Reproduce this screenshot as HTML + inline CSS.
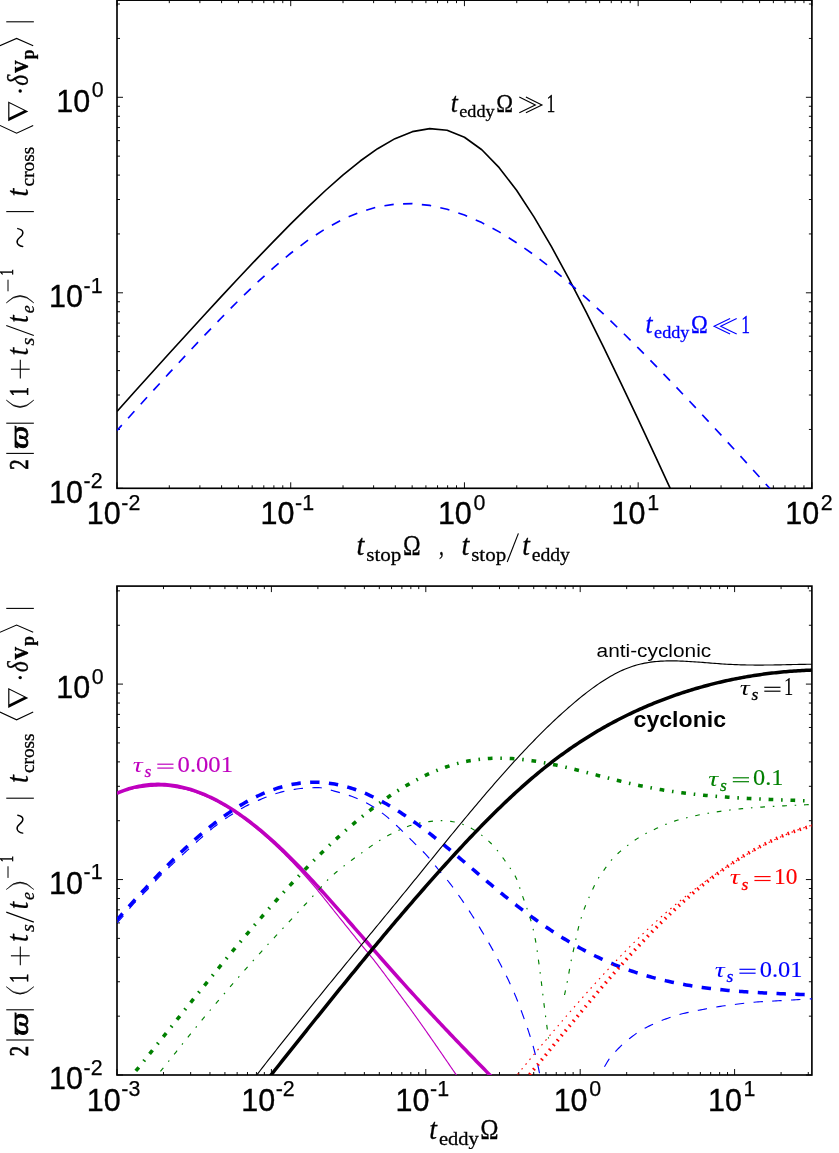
<!DOCTYPE html>
<html><head><meta charset="utf-8"><title>figure</title>
<style>
html,body{margin:0;padding:0;background:#fff}
body{width:839px;height:1153px;overflow:hidden}
svg{display:block}
.tx{opacity:0.999}
text{font-family:"Liberation Sans",sans-serif}
.tk{font-size:30.5px;stroke:#000;stroke-width:0.35px}
.sup{font-size:21.4px;stroke:#000;stroke-width:0.25px}
.m{font-family:"Liberation Serif",serif}
.i{font-style:italic}
.b{font-weight:bold}
</style></head><body>
<svg width="839" height="1153" viewBox="0 0 839 1153">
<rect width="839" height="1153" fill="#fff"/>
<defs>
</defs>
<clipPath id="clip1"><rect x="117" y="0.15" width="694.9" height="488.15"/></clipPath>
<path d="M117 488.3v-6M117 0.15v6M169.3 488.3v-3M169.3 0.15v3M199.89 488.3v-3M199.89 0.15v3M221.59 488.3v-3M221.59 0.15v3M238.43 488.3v-3M238.43 0.15v3M252.18 488.3v-3M252.18 0.15v3M263.81 488.3v-3M263.81 0.15v3M273.89 488.3v-3M273.89 0.15v3M282.78 488.3v-3M282.78 0.15v3M290.73 488.3v-6M290.73 0.15v6M343.02 488.3v-3M343.02 0.15v3M373.61 488.3v-3M373.61 0.15v3M395.32 488.3v-3M395.32 0.15v3M412.15 488.3v-3M412.15 0.15v3M425.91 488.3v-3M425.91 0.15v3M437.54 488.3v-3M437.54 0.15v3M447.61 488.3v-3M447.61 0.15v3M456.5 488.3v-3M456.5 0.15v3M464.45 488.3v-6M464.45 0.15v6M516.75 488.3v-3M516.75 0.15v3M547.34 488.3v-3M547.34 0.15v3M569.04 488.3v-3M569.04 0.15v3M585.88 488.3v-3M585.88 0.15v3M599.63 488.3v-3M599.63 0.15v3M611.26 488.3v-3M611.26 0.15v3M621.34 488.3v-3M621.34 0.15v3M630.23 488.3v-3M630.23 0.15v3M638.17 488.3v-6M638.17 0.15v6M690.47 488.3v-3M690.47 0.15v3M721.06 488.3v-3M721.06 0.15v3M742.77 488.3v-3M742.77 0.15v3M759.6 488.3v-3M759.6 0.15v3M773.36 488.3v-3M773.36 0.15v3M784.99 488.3v-3M784.99 0.15v3M795.06 488.3v-3M795.06 0.15v3M803.95 488.3v-3M803.95 0.15v3M811.9 488.3v-6M811.9 0.15v6M117 488.3h6M811.9 488.3h-6M117 429.45h3M811.9 429.45h-3M117 395.02h3M811.9 395.02h-3M117 370.6h3M811.9 370.6h-3M117 351.65h3M811.9 351.65h-3M117 336.17h3M811.9 336.17h-3M117 323.08h3M811.9 323.08h-3M117 311.75h3M811.9 311.75h-3M117 301.75h3M811.9 301.75h-3M117 292.8h6M811.9 292.8h-6M117 233.95h3M811.9 233.95h-3M117 199.52h3M811.9 199.52h-3M117 175.1h3M811.9 175.1h-3M117 156.15h3M811.9 156.15h-3M117 140.67h3M811.9 140.67h-3M117 127.58h3M811.9 127.58h-3M117 116.25h3M811.9 116.25h-3M117 106.25h3M811.9 106.25h-3M117 97.3h6M811.9 97.3h-6M117 38.45h3M811.9 38.45h-3M117 4.02h3M811.9 4.02h-3" stroke="#000" stroke-width="0.95" fill="none"/>
<rect x="117" y="0.15" width="694.9" height="488.15" fill="none" stroke="#000" stroke-width="1.65"/>
<clipPath id="clip2"><rect x="117" y="586.1" width="694.9" height="488.9"/></clipPath>
<path d="M117 1075v-6M117 586.1v6M163.48 1075v-3M163.48 586.1v3M190.67 1075v-3M190.67 586.1v3M209.96 1075v-3M209.96 586.1v3M224.92 1075v-3M224.92 586.1v3M237.15 1075v-3M237.15 586.1v3M247.48 1075v-3M247.48 586.1v3M256.44 1075v-3M256.44 586.1v3M264.34 1075v-3M264.34 586.1v3M271.4 1075v-6M271.4 586.1v6M317.88 1075v-3M317.88 586.1v3M345.07 1075v-3M345.07 586.1v3M364.36 1075v-3M364.36 586.1v3M379.32 1075v-3M379.32 586.1v3M391.55 1075v-3M391.55 586.1v3M401.88 1075v-3M401.88 586.1v3M410.84 1075v-3M410.84 586.1v3M418.74 1075v-3M418.74 586.1v3M425.8 1075v-6M425.8 586.1v6M472.28 1075v-3M472.28 586.1v3M499.47 1075v-3M499.47 586.1v3M518.76 1075v-3M518.76 586.1v3M533.72 1075v-3M533.72 586.1v3M545.95 1075v-3M545.95 586.1v3M556.28 1075v-3M556.28 586.1v3M565.24 1075v-3M565.24 586.1v3M573.14 1075v-3M573.14 586.1v3M580.2 1075v-6M580.2 586.1v6M626.68 1075v-3M626.68 586.1v3M653.87 1075v-3M653.87 586.1v3M673.16 1075v-3M673.16 586.1v3M688.12 1075v-3M688.12 586.1v3M700.35 1075v-3M700.35 586.1v3M710.68 1075v-3M710.68 586.1v3M719.64 1075v-3M719.64 586.1v3M727.54 1075v-3M727.54 586.1v3M734.6 1075v-6M734.6 586.1v6M781.08 1075v-3M781.08 586.1v3M808.27 1075v-3M808.27 586.1v3M117 1075h6M811.9 1075h-6M117 1016.16h3M811.9 1016.16h-3M117 981.75h3M811.9 981.75h-3M117 957.33h3M811.9 957.33h-3M117 938.39h3M811.9 938.39h-3M117 922.91h3M811.9 922.91h-3M117 909.83h3M811.9 909.83h-3M117 898.49h3M811.9 898.49h-3M117 888.49h3M811.9 888.49h-3M117 879.55h6M811.9 879.55h-6M117 820.71h3M811.9 820.71h-3M117 786.3h3M811.9 786.3h-3M117 761.88h3M811.9 761.88h-3M117 742.94h3M811.9 742.94h-3M117 727.46h3M811.9 727.46h-3M117 714.38h3M811.9 714.38h-3M117 703.04h3M811.9 703.04h-3M117 693.04h3M811.9 693.04h-3M117 684.1h6M811.9 684.1h-6M117 625.26h3M811.9 625.26h-3M117 590.85h3M811.9 590.85h-3" stroke="#000" stroke-width="0.95" fill="none"/>
<rect x="117" y="586.1" width="694.9" height="488.9" fill="none" stroke="#000" stroke-width="1.65"/>
<path d="M117 411.36 L134.37 392.03 L151.75 372.76 L169.12 353.56 L186.49 334.46 L203.86 315.48 L221.24 296.65 L238.61 278.02 L255.98 259.63 L273.35 241.58 L290.73 223.94 L308.1 206.86 L325.47 190.5 L342.84 175.11 L360.22 161.02 L377.59 148.67 L394.96 138.65 L412.33 131.67 L429.7 128.59 L447.08 130.22 L464.45 137.21 L481.82 149.77 L499.19 167.69 L516.57 190.32 L533.94 216.85 L551.31 246.42 L568.68 278.32 L586.06 311.96 L603.43 346.9 L620.8 382.81 L638.17 419.44 L655.55 456.63 L672.92 494.23 L690.29 532.17 L707.67 570.35 L725.04 608.73 L742.41 647.26 L759.78 685.91 L777.15 724.66 L794.53 763.48 L811.9 802.36" fill="none" stroke="#000000" stroke-width="1.65" stroke-linecap="butt" stroke-linejoin="round" clip-path="url(#clip1)"/>
<path d="M117 430.48 L134.37 411.26 L151.75 392.14 L169.12 373.18 L186.49 354.44 L203.86 335.99 L221.24 317.95 L238.61 300.46 L255.98 283.69 L273.35 267.87 L290.73 253.25 L308.1 240.1 L325.47 228.68 L342.84 219.23 L360.22 211.93 L377.59 206.89 L394.96 204.14 L412.33 203.67 L429.7 205.4 L447.08 209.22 L464.45 215 L481.82 222.61 L499.19 231.89 L516.57 242.69 L533.94 254.85 L551.31 268.2 L568.68 282.61 L586.06 297.91 L603.43 313.97 L620.8 330.68 L638.17 347.93 L655.55 365.61 L672.92 383.66 L690.29 402 L707.67 420.58 L725.04 439.36 L742.41 458.29 L759.78 477.34 L777.15 496.5 L794.53 515.73 L811.9 535.03" fill="none" stroke="#0000ff" stroke-width="1.65" stroke-dasharray="9.39 9.39" stroke-dashoffset="2.2" stroke-linecap="butt" stroke-linejoin="round" clip-path="url(#clip1)"/>
<path d="M117 793.4 L118.9 792.72 L120.81 792.07 L122.72 791.43 L124.64 790.83 L126.56 790.26 L128.49 789.74 L130.42 789.27 L132.37 788.85 L134.32 788.51 L136.27 788.21 L138.24 787.93 L140.22 787.65 L142.2 787.38 L144.19 787.13 L146.18 786.89 L148.18 786.68 L150.18 786.48 L152.18 786.32 L154.18 786.18 L156.18 786.08 L158.17 786.02 L160.16 786 L162.15 786.03 L164.14 786.13 L166.14 786.27 L168.13 786.47 L170.13 786.7 L172.13 786.97 L174.12 787.28 L176.1 787.61 L178.08 787.96 L180.05 788.32 L182.01 788.7 L183.96 789.08 L185.89 789.46 L187.81 789.9 L189.73 790.4 L191.65 790.96 L193.55 791.57 L195.45 792.23 L197.35 792.92 L199.23 793.65 L201.1 794.41 L202.96 795.19 L204.82 795.98 L206.66 796.78 L208.48 797.59 L210.3 798.39 L212.1 799.21 L213.9 800.06 L215.69 800.94 L217.47 801.85 L219.24 802.79 L221 803.75 L222.75 804.74 L224.5 805.74 L226.23 806.77 L227.95 807.81 L229.65 808.86 L231.35 809.92 L233.03 810.99 L234.7 812.07 L236.36 813.17 L238 814.28 L239.64 815.42 L241.26 816.58 L242.87 817.76 L244.47 818.96 L246.06 820.17 L247.65 821.4 L249.22 822.65 L250.79 823.9 L252.35 825.16 L253.9 826.44 L255.44 827.71 L256.98 828.99 L258.51 830.28 L260.04 831.56 L261.56 832.85 L263.07 834.15 L264.58 835.46 L266.08 836.78 L267.57 838.11 L269.06 839.44 L270.54 840.79 L272.01 842.14 L273.48 843.5 L274.94 844.87 L276.39 846.24 L277.84 847.62 L279.29 849.01 L280.72 850.4 L282.15 851.8 L283.58 853.19 L285 854.6 L286.41 856.01 L287.82 857.42 L289.22 858.84 L290.62 860.27 L292.01 861.7 L293.4 863.14 L294.78 864.59 L296.15 866.04 L297.52 867.5 L298.89 868.96 L300.24 870.43 L301.6 871.9 L302.94 873.38 L304.29 874.86 L305.62 876.35 L306.95 877.84 L308.28 879.34 L309.59 880.83 L310.9 882.34 L312.21 883.85 L313.5 885.37 L314.78 886.9 L316.06 888.44 L317.33 889.98 L318.6 891.52 L319.86 893.07 L321.12 894.63 L322.37 896.18 L323.63 897.74 L324.88 899.3 L326.13 900.86 L327.37 902.43 L328.62 903.99 L329.87 905.54 L331.12 907.1 L332.36 908.67 L333.6 910.24 L334.84 911.8 L336.09 913.36 L337.34 914.93 L338.58 916.49 L339.83 918.05 L341.08 919.61 L342.33 921.17 L343.58 922.72 L344.83 924.28 L346.08 925.84 L347.33 927.4 L348.58 928.96 L349.84 930.51 L351.09 932.07 L352.34 933.62 L353.6 935.18 L354.85 936.73 L356.11 938.29 L357.36 939.84 L358.62 941.39 L359.88 942.95 L361.14 944.5 L362.4 946.05 L363.66 947.6 L364.93 949.14 L366.2 950.68 L367.48 952.22 L368.75 953.76 L370.02 955.31 L371.28 956.85 L372.54 958.41 L373.78 959.97 L375.01 961.54 L376.23 963.12 L377.45 964.7 L378.66 966.29 L379.87 967.89 L381.07 969.48 L382.27 971.08 L383.47 972.68 L384.66 974.28 L385.85 975.89 L387.04 977.49 L388.24 979.1 L389.43 980.7 L390.62 982.3 L391.81 983.9 L393 985.51 L394.19 987.12 L395.38 988.72 L396.56 990.33 L397.75 991.94 L398.93 993.55 L400.12 995.16 L401.3 996.77 L402.49 998.37 L403.68 999.98 L404.87 1001.59 L406.05 1003.2 L407.24 1004.8 L408.42 1006.41 L409.61 1008.02 L410.79 1009.63 L411.96 1011.25 L413.14 1012.87 L414.3 1014.49 L415.47 1016.11 L416.63 1017.74 L417.79 1019.36 L418.95 1020.99 L420.1 1022.62 L421.25 1024.25 L422.41 1025.88 L423.56 1027.52 L424.7 1029.15 L425.85 1030.79 L427 1032.43 L428.14 1034.06 L429.28 1035.7 L430.42 1037.34 L431.56 1038.98 L432.7 1040.63 L433.84 1042.27 L434.98 1043.91 L436.11 1045.56 L437.25 1047.2 L438.38 1048.85 L439.52 1050.49 L440.65 1052.14 L441.78 1053.78 L442.91 1055.43 L444.05 1057.08 L445.18 1058.72 L446.31 1060.37 L447.44 1062.02 L448.57 1063.67 L449.7 1065.31 L450.83 1066.96 L451.96 1068.61 L453.09 1070.25 L454.23 1071.9 L455.36 1073.55 L456.49 1075.19 L457.62 1076.84 L458.75 1078.49 L459.88 1080.14 L461 1081.79 L462.13 1083.44 L463.26 1085.09 L464.38 1086.74 L465.51 1088.39 L466.63 1090.04 L467.75 1091.69 L468.88 1093.35 L470 1095" fill="none" stroke="#bf00bf" stroke-width="1.15" stroke-linecap="butt" stroke-linejoin="round" clip-path="url(#clip2)"/>
<path d="M117 793.33 L119 792.46 L120.99 791.64 L122.99 790.86 L124.98 790.13 L126.98 789.45 L128.97 788.8 L130.97 788.21 L132.96 787.66 L134.96 787.15 L136.95 786.68 L138.95 786.26 L140.94 785.88 L142.94 785.55 L144.93 785.26 L146.93 785.01 L148.92 784.8 L150.92 784.63 L152.91 784.51 L154.91 784.42 L156.9 784.38 L158.9 784.37 L160.89 784.41 L162.89 784.49 L164.88 784.6 L166.88 784.76 L168.87 784.95 L170.87 785.18 L172.86 785.45 L174.86 785.76 L176.85 786.11 L178.85 786.49 L180.84 786.91 L182.84 787.37 L184.83 787.86 L186.83 788.39 L188.82 788.95 L190.82 789.55 L192.81 790.19 L194.81 790.86 L196.8 791.56 L198.8 792.3 L200.79 793.07 L202.79 793.88 L204.78 794.72 L206.78 795.59 L208.77 796.5 L210.77 797.43 L212.76 798.4 L214.76 799.4 L216.75 800.44 L218.75 801.5 L220.74 802.6 L222.74 803.72 L224.73 804.88 L226.73 806.06 L228.72 807.28 L230.72 808.52 L232.71 809.79 L234.71 811.09 L236.7 812.42 L238.7 813.78 L240.69 815.17 L242.69 816.58 L244.68 818.02 L246.68 819.49 L248.67 820.98 L250.67 822.5 L252.66 824.04 L254.66 825.62 L256.65 827.21 L258.65 828.83 L260.64 830.48 L262.64 832.15 L264.63 833.84 L266.63 835.56 L268.62 837.3 L270.62 839.07 L272.61 840.85 L274.61 842.66 L276.6 844.49 L278.6 846.35 L280.59 848.22 L282.59 850.12 L284.58 852.04 L286.58 853.98 L288.57 855.93 L290.57 857.91 L292.56 859.91 L294.56 861.92 L296.55 863.95 L298.55 866 L300.54 868.07 L302.54 870.15 L304.53 872.25 L306.53 874.36 L308.52 876.48 L310.52 878.62 L312.51 880.77 L314.51 882.94 L316.5 885.11 L318.5 887.3 L320.5 889.49 L322.49 891.7 L324.49 893.91 L326.48 896.14 L328.48 898.37 L330.47 900.6 L332.47 902.85 L334.46 905.1 L336.46 907.35 L338.45 909.61 L340.45 911.88 L342.44 914.14 L344.44 916.41 L346.43 918.69 L348.43 920.96 L350.42 923.24 L352.42 925.52 L354.41 927.8 L356.41 930.08 L358.4 932.37 L360.4 934.65 L362.39 936.94 L364.39 939.22 L366.38 941.51 L368.38 943.79 L370.37 946.07 L372.37 948.35 L374.36 950.63 L376.36 952.91 L378.35 955.18 L380.35 957.46 L382.34 959.73 L384.34 961.99 L386.33 964.26 L388.33 966.51 L390.32 968.77 L392.32 971.02 L394.31 973.26 L396.31 975.51 L398.3 977.74 L400.3 979.97 L402.29 982.19 L404.29 984.41 L406.28 986.62 L408.28 988.82 L410.27 991.02 L412.27 993.22 L414.26 995.41 L416.26 997.59 L418.25 999.77 L420.25 1001.94 L422.24 1004.1 L424.24 1006.27 L426.23 1008.42 L428.23 1010.57 L430.22 1012.72 L432.22 1014.86 L434.21 1017 L436.21 1019.13 L438.2 1021.26 L440.2 1023.38 L442.19 1025.5 L444.19 1027.61 L446.18 1029.72 L448.18 1031.83 L450.17 1033.93 L452.17 1036.02 L454.16 1038.12 L456.16 1040.21 L458.15 1042.29 L460.15 1044.37 L462.14 1046.45 L464.14 1048.53 L466.13 1050.6 L468.13 1052.66 L470.12 1054.73 L472.12 1056.79 L474.11 1058.85 L476.11 1060.9 L478.1 1062.95 L480.1 1065 L482.09 1067.05 L484.09 1069.09 L486.08 1071.13 L488.08 1073.17 L490.07 1075.2 L492.07 1077.23 L494.06 1079.26 L496.06 1081.29 L498.05 1083.32 L500.05 1085.34 L502.04 1087.36 L504.04 1089.38 L506.03 1091.4 L508.03 1093.41 L510.02 1095.43 L512.02 1097.44 L514.01 1099.45 L516.01 1101.46 L518 1103.47 L520 1105.47" fill="none" stroke="#bf00bf" stroke-width="3.55" stroke-linecap="butt" stroke-linejoin="round" clip-path="url(#clip2)"/>
<path d="M117 922.7 L118.4 921.26 L119.78 919.82 L121.15 918.35 L122.49 916.87 L123.81 915.36 L125.11 913.84 L126.4 912.31 L127.69 910.77 L128.98 909.23 L130.27 907.7 L131.58 906.19 L132.9 904.68 L134.25 903.2 L135.61 901.74 L136.99 900.29 L138.38 898.84 L139.78 897.41 L141.18 895.98 L142.59 894.55 L143.99 893.12 L145.39 891.68 L146.77 890.24 L148.15 888.78 L149.52 887.32 L150.88 885.85 L152.25 884.38 L153.61 882.91 L154.97 881.45 L156.34 879.99 L157.72 878.53 L159.11 877.1 L160.52 875.67 L161.94 874.26 L163.36 872.85 L164.79 871.45 L166.23 870.06 L167.68 868.67 L169.13 867.28 L170.58 865.9 L172.03 864.52 L173.49 863.15 L174.94 861.77 L176.4 860.4 L177.87 859.04 L179.34 857.67 L180.81 856.31 L182.28 854.96 L183.76 853.6 L185.23 852.25 L186.71 850.9 L188.19 849.55 L189.67 848.2 L191.15 846.85 L192.64 845.51 L194.13 844.16 L195.62 842.83 L197.11 841.49 L198.61 840.17 L200.12 838.85 L201.63 837.53 L203.14 836.21 L204.65 834.89 L206.16 833.58 L207.68 832.27 L209.21 830.97 L210.75 829.69 L212.3 828.42 L213.86 827.17 L215.44 825.94 L217.03 824.73 L218.63 823.53 L220.25 822.35 L221.87 821.17 L223.51 820.02 L225.16 818.87 L226.82 817.74 L228.48 816.63 L230.15 815.53 L231.83 814.44 L233.52 813.36 L235.22 812.29 L236.92 811.23 L238.64 810.19 L240.37 809.17 L242.11 808.18 L243.86 807.21 L245.62 806.28 L247.4 805.38 L249.2 804.5 L251.01 803.64 L252.83 802.8 L254.67 801.98 L256.51 801.18 L258.35 800.38 L260.19 799.6 L262.04 798.82 L263.89 798.04 L265.74 797.27 L267.6 796.51 L269.47 795.78 L271.35 795.08 L273.24 794.43 L275.13 793.82 L277.05 793.25 L278.97 792.7 L280.91 792.17 L282.86 791.67 L284.81 791.2 L286.77 790.76 L288.73 790.37 L290.7 790.01 L292.67 789.68 L294.65 789.35 L296.63 789.05 L298.62 788.77 L300.61 788.52 L302.6 788.31 L304.6 788.15 L306.59 788.02 L308.6 787.91 L310.61 787.8 L312.61 787.72 L314.62 787.65 L316.61 787.61 L318.6 787.61 L320.57 787.74 L322.54 788.02 L324.51 788.41 L326.47 788.89 L328.42 789.43 L330.37 790 L332.32 790.57 L334.26 791.11 L336.19 791.61 L338.13 792.12 L340.07 792.65 L342 793.2 L343.93 793.77 L345.85 794.36 L347.76 794.97 L349.66 795.61 L351.55 796.27 L353.42 796.95 L355.27 797.67 L357.12 798.43 L358.96 799.23 L360.79 800.07 L362.61 800.94 L364.42 801.84 L366.2 802.76 L367.97 803.71 L369.72 804.69 L371.44 805.68 L373.14 806.71 L374.82 807.78 L376.49 808.9 L378.13 810.05 L379.77 811.23 L381.38 812.44 L382.97 813.67 L384.55 814.9 L386.12 816.15 L387.66 817.41 L389.18 818.71 L390.68 820.03 L392.16 821.38 L393.64 822.74 L395.1 824.12 L396.55 825.51 L398 826.89 L399.45 828.28 L400.9 829.66 L402.34 831.05 L403.77 832.46 L405.19 833.86 L406.61 835.28 L408.02 836.7 L409.44 838.12 L410.85 839.54 L412.26 840.96 L413.68 842.38 L415.1 843.79 L416.54 845.19 L417.97 846.59 L419.41 847.98 L420.85 849.39 L422.27 850.8 L423.68 852.22 L425.06 853.66 L426.42 855.13 L427.75 856.62 L429.06 858.13 L430.34 859.66 L431.62 861.21 L432.88 862.77 L434.13 864.33 L435.39 865.9 L436.65 867.46 L437.91 869.01 L439.2 870.55 L440.49 872.08 L441.8 873.6 L443.12 875.11 L444.43 876.63 L445.72 878.16 L447 879.69 L448.26 881.25 L449.49 882.82 L450.72 884.41 L451.92 886.01 L453.12 887.61 L454.31 889.23 L455.49 890.85 L456.66 892.48 L457.82 894.11 L458.97 895.75 L460.12 897.39 L461.27 899.03 L462.4 900.68 L463.53 902.34 L464.65 904 L465.77 905.66 L466.88 907.33 L467.98 909 L469.08 910.68 L470.17 912.36 L471.25 914.04 L472.33 915.73 L473.41 917.42 L474.48 919.11 L475.54 920.81 L476.59 922.51 L477.64 924.22 L478.68 925.93 L479.72 927.65 L480.75 929.36 L481.79 931.08 L482.82 932.8 L483.85 934.51 L484.88 936.23 L485.9 937.95 L486.93 939.68 L487.94 941.4 L488.95 943.13 L489.95 944.87 L490.94 946.61 L491.92 948.35 L492.89 950.11 L493.85 951.86 L494.8 953.63 L495.74 955.39 L496.68 957.16 L497.62 958.94 L498.54 960.71 L499.47 962.49 L500.39 964.27 L501.31 966.05 L502.23 967.83 L503.15 969.61 L504.06 971.39 L504.97 973.18 L505.87 974.97 L506.76 976.76 L507.64 978.56 L508.51 980.36 L509.36 982.17 L510.21 983.99 L511.05 985.81 L511.88 987.63 L512.7 989.46 L513.51 991.29 L514.31 993.13 L515.09 994.97 L515.87 996.82 L516.63 998.67 L517.37 1000.53 L518.11 1002.39 L518.83 1004.26 L519.54 1006.13 L520.24 1008.01 L520.93 1009.89 L521.62 1011.77 L522.3 1013.66 L522.98 1015.54 L523.66 1017.43 L524.34 1019.31 L525.02 1021.2 L525.69 1023.08 L526.36 1024.97 L527.01 1026.87 L527.66 1028.76 L528.3 1030.66 L528.93 1032.56 L529.54 1034.47 L530.15 1036.37 L530.75 1038.29 L531.35 1040.2 L531.94 1042.12 L532.51 1044.04 L533.06 1045.96 L533.61 1047.89 L534.13 1049.82 L534.63 1051.76 L535.13 1053.7 L535.62 1055.64 L536.1 1057.59 L536.57 1059.53 L537.03 1061.49 L537.47 1063.44 L537.91 1065.4 L538.33 1067.36 L538.73 1069.32 L539.12 1071.28 L539.5 1073.25 L539.87 1075.21 L540.22 1077.18 L540.57 1079.15 L540.92 1081.13 L541.25 1083.1 L541.57 1085.08 L541.88 1087.06 L542.18 1089.04 L542.46 1091.02 L542.74 1093.01 L543 1095" fill="none" stroke="#0000ff" stroke-width="1.15" stroke-dasharray="9.39 9.39" stroke-linecap="butt" stroke-linejoin="round" clip-path="url(#clip2)"/>
<path d="M592 1092 L592.66 1090.11 L593.37 1088.23 L594.11 1086.38 L594.88 1084.54 L595.68 1082.71 L596.51 1080.9 L597.4 1079.11 L598.33 1077.34 L599.29 1075.58 L600.26 1073.84 L601.25 1072.11 L602.27 1070.39 L603.31 1068.68 L604.35 1066.97 L605.38 1065.26 L606.4 1063.53 L607.41 1061.8 L608.45 1060.09 L609.55 1058.43 L610.73 1056.85 L612.01 1055.32 L613.35 1053.83 L614.73 1052.37 L616.11 1050.92 L617.49 1049.47 L618.87 1048.02 L620.27 1046.59 L621.7 1045.19 L623.15 1043.83 L624.64 1042.51 L626.17 1041.22 L627.73 1039.97 L629.3 1038.73 L630.89 1037.51 L632.48 1036.31 L634.08 1035.1 L635.69 1033.9 L637.31 1032.74 L638.97 1031.62 L640.65 1030.56 L642.37 1029.56 L644.13 1028.6 L645.9 1027.67 L647.68 1026.76 L649.47 1025.87 L651.26 1024.99 L653.07 1024.13 L654.89 1023.3 L656.71 1022.49 L658.56 1021.72 L660.41 1020.97 L662.27 1020.25 L664.14 1019.55 L666.02 1018.87 L667.91 1018.21 L669.8 1017.57 L671.7 1016.94 L673.6 1016.34 L675.51 1015.74 L677.42 1015.14 L679.33 1014.58 L681.26 1014.04 L683.19 1013.55 L685.14 1013.09 L687.09 1012.65 L689.04 1012.23 L690.99 1011.81 L692.95 1011.4 L694.9 1011 L696.86 1010.6 L698.82 1010.21 L700.78 1009.83 L702.75 1009.45 L704.71 1009.08 L706.67 1008.72 L708.64 1008.37 L710.61 1008.01 L712.57 1007.66 L714.54 1007.32 L716.51 1006.98 L718.48 1006.66 L720.46 1006.35 L722.43 1006.05 L724.41 1005.78 L726.39 1005.53 L728.38 1005.29 L730.36 1005.04 L732.34 1004.79 L734.32 1004.53 L736.31 1004.27 L738.29 1004.01 L740.27 1003.74 L742.25 1003.49 L744.24 1003.24 L746.22 1003 L748.2 1002.78 L750.19 1002.57 L752.18 1002.37 L754.16 1002.2 L756.15 1002.05 L758.15 1001.91 L760.14 1001.77 L762.13 1001.65 L764.13 1001.53 L766.12 1001.42 L768.12 1001.31 L770.11 1001.2 L772.11 1001.09 L774.1 1000.99 L776.1 1000.88 L778.09 1000.76 L780.09 1000.65 L782.08 1000.53 L784.08 1000.41 L786.07 1000.3 L788.07 1000.18 L790.06 1000.06 L792.06 999.95 L794.05 999.83 L796.04 999.72 L798.04 999.6 L800.03 999.48 L802.03 999.37 L804.02 999.26 L806.02 999.14 L808.01 999.03 L810.01 998.91 L812 998.8" fill="none" stroke="#0000ff" stroke-width="1.15" stroke-dasharray="9.39 9.39" stroke-dashoffset="9.4" stroke-linecap="butt" stroke-linejoin="round" clip-path="url(#clip2)"/>
<path d="M117 919.82 L119 917.56 L120.99 915.3 L122.99 913.05 L124.99 910.81 L126.99 908.57 L128.98 906.34 L130.98 904.12 L132.98 901.91 L134.97 899.71 L136.97 897.51 L138.97 895.33 L140.97 893.16 L142.96 890.99 L144.96 888.84 L146.96 886.7 L148.95 884.57 L150.95 882.45 L152.95 880.34 L154.95 878.25 L156.94 876.17 L158.94 874.1 L160.94 872.04 L162.93 870 L164.93 867.98 L166.93 865.96 L168.93 863.97 L170.92 861.99 L172.92 860.02 L174.92 858.07 L176.91 856.14 L178.91 854.22 L180.91 852.32 L182.91 850.44 L184.9 848.58 L186.9 846.73 L188.9 844.91 L190.89 843.1 L192.89 841.31 L194.89 839.54 L196.89 837.79 L198.88 836.07 L200.88 834.36 L202.88 832.67 L204.87 831.01 L206.87 829.37 L208.87 827.74 L210.86 826.15 L212.86 824.57 L214.86 823.02 L216.86 821.49 L218.85 819.99 L220.85 818.51 L222.85 817.05 L224.84 815.62 L226.84 814.22 L228.84 812.84 L230.84 811.49 L232.83 810.16 L234.83 808.86 L236.83 807.59 L238.82 806.35 L240.82 805.13 L242.82 803.94 L244.82 802.79 L246.81 801.66 L248.81 800.56 L250.81 799.49 L252.8 798.45 L254.8 797.44 L256.8 796.46 L258.8 795.51 L260.79 794.59 L262.79 793.71 L264.79 792.86 L266.78 792.04 L268.78 791.25 L270.78 790.49 L272.78 789.77 L274.77 789.08 L276.77 788.42 L278.77 787.79 L280.76 787.2 L282.76 786.64 L284.76 786.12 L286.76 785.62 L288.75 785.16 L290.75 784.74 L292.75 784.34 L294.74 783.98 L296.74 783.66 L298.74 783.37 L300.74 783.11 L302.73 782.88 L304.73 782.69 L306.73 782.54 L308.72 782.42 L310.72 782.33 L312.72 782.28 L314.72 782.26 L316.71 782.28 L318.71 782.33 L320.71 782.42 L322.7 782.54 L324.7 782.7 L326.7 782.89 L328.7 783.12 L330.69 783.39 L332.69 783.69 L334.69 784.02 L336.68 784.39 L338.68 784.8 L340.68 785.24 L342.68 785.72 L344.67 786.23 L346.67 786.78 L348.67 787.35 L350.66 787.96 L352.66 788.61 L354.66 789.28 L356.66 789.99 L358.65 790.73 L360.65 791.5 L362.65 792.3 L364.64 793.12 L366.64 793.98 L368.64 794.87 L370.64 795.78 L372.63 796.73 L374.63 797.7 L376.63 798.69 L378.62 799.72 L380.62 800.77 L382.62 801.84 L384.61 802.94 L386.61 804.07 L388.61 805.22 L390.61 806.39 L392.6 807.59 L394.6 808.81 L396.6 810.06 L398.59 811.32 L400.59 812.61 L402.59 813.92 L404.59 815.25 L406.58 816.59 L408.58 817.96 L410.58 819.35 L412.57 820.76 L414.57 822.19 L416.57 823.63 L418.57 825.09 L420.56 826.57 L422.56 828.07 L424.56 829.58 L426.55 831.11 L428.55 832.65 L430.55 834.2 L432.55 835.77 L434.54 837.35 L436.54 838.95 L438.54 840.55 L440.53 842.17 L442.53 843.8 L444.53 845.43 L446.53 847.08 L448.52 848.73 L450.52 850.39 L452.52 852.06 L454.51 853.73 L456.51 855.41 L458.51 857.1 L460.51 858.79 L462.5 860.48 L464.5 862.17 L466.5 863.87 L468.49 865.57 L470.49 867.27 L472.49 868.98 L474.49 870.68 L476.48 872.38 L478.48 874.08 L480.48 875.78 L482.47 877.47 L484.47 879.17 L486.47 880.85 L488.47 882.54 L490.46 884.21 L492.46 885.89 L494.46 887.55 L496.45 889.21 L498.45 890.86 L500.45 892.5 L502.45 894.14 L504.44 895.76 L506.44 897.38 L508.44 898.98 L510.43 900.57 L512.43 902.15 L514.43 903.72 L516.43 905.28 L518.42 906.82 L520.42 908.36 L522.42 909.88 L524.41 911.39 L526.41 912.89 L528.41 914.38 L530.41 915.85 L532.4 917.32 L534.4 918.77 L536.4 920.2 L538.39 921.62 L540.39 923.03 L542.39 924.43 L544.39 925.81 L546.38 927.18 L548.38 928.54 L550.38 929.88 L552.37 931.21 L554.37 932.52 L556.37 933.82 L558.36 935.1 L560.36 936.37 L562.36 937.63 L564.36 938.87 L566.35 940.09 L568.35 941.3 L570.35 942.49 L572.34 943.67 L574.34 944.83 L576.34 945.97 L578.34 947.1 L580.33 948.22 L582.33 949.31 L584.33 950.39 L586.32 951.45 L588.32 952.5 L590.32 953.53 L592.32 954.54 L594.31 955.53 L596.31 956.51 L598.31 957.47 L600.3 958.41 L602.3 959.33 L604.3 960.24 L606.3 961.13 L608.29 962 L610.29 962.86 L612.29 963.7 L614.28 964.53 L616.28 965.34 L618.28 966.13 L620.28 966.91 L622.27 967.67 L624.27 968.41 L626.27 969.14 L628.26 969.86 L630.26 970.56 L632.26 971.25 L634.26 971.92 L636.25 972.58 L638.25 973.22 L640.25 973.85 L642.24 974.47 L644.24 975.07 L646.24 975.66 L648.24 976.24 L650.23 976.8 L652.23 977.35 L654.23 977.89 L656.22 978.41 L658.22 978.93 L660.22 979.43 L662.22 979.91 L664.21 980.39 L666.21 980.86 L668.21 981.31 L670.2 981.75 L672.2 982.18 L674.2 982.6 L676.2 983.01 L678.19 983.41 L680.19 983.8 L682.19 984.17 L684.18 984.54 L686.18 984.9 L688.18 985.25 L690.18 985.59 L692.17 985.91 L694.17 986.23 L696.17 986.54 L698.16 986.84 L700.16 987.14 L702.16 987.42 L704.16 987.7 L706.15 987.96 L708.15 988.22 L710.15 988.48 L712.14 988.72 L714.14 988.96 L716.14 989.19 L718.14 989.41 L720.13 989.62 L722.13 989.83 L724.13 990.03 L726.12 990.23 L728.12 990.41 L730.12 990.6 L732.11 990.77 L734.11 990.94 L736.11 991.11 L738.11 991.27 L740.1 991.42 L742.1 991.57 L744.1 991.71 L746.09 991.85 L748.09 991.99 L750.09 992.12 L752.09 992.25 L754.08 992.37 L756.08 992.49 L758.08 992.6 L760.07 992.71 L762.07 992.82 L764.07 992.92 L766.07 993.02 L768.06 993.12 L770.06 993.22 L772.06 993.31 L774.05 993.4 L776.05 993.49 L778.05 993.58 L780.05 993.66 L782.04 993.74 L784.04 993.83 L786.04 993.91 L788.03 993.99 L790.03 994.06 L792.03 994.14 L794.03 994.22 L796.02 994.29 L798.02 994.37 L800.02 994.45 L802.01 994.52 L804.01 994.6 L806.01 994.67 L808.01 994.75 L810 994.83 L812 994.91" fill="none" stroke="#0000ff" stroke-width="3.55" stroke-dasharray="9.39 9.39" stroke-dashoffset="1" stroke-linecap="butt" stroke-linejoin="round" clip-path="url(#clip2)"/>
<path d="M140 1097 L141.25 1095.44 L142.49 1093.88 L143.74 1092.31 L144.99 1090.75 L146.23 1089.19 L147.48 1087.63 L148.73 1086.07 L149.98 1084.51 L151.23 1082.95 L152.48 1081.39 L153.73 1079.83 L154.98 1078.27 L156.23 1076.71 L157.48 1075.16 L158.73 1073.6 L159.98 1072.04 L161.23 1070.48 L162.48 1068.93 L163.73 1067.37 L164.99 1065.81 L166.24 1064.25 L167.49 1062.69 L168.74 1061.13 L169.99 1059.57 L171.23 1058.01 L172.48 1056.45 L173.73 1054.89 L174.98 1053.33 L176.23 1051.77 L177.48 1050.21 L178.73 1048.65 L179.97 1047.09 L181.22 1045.53 L182.48 1043.97 L183.73 1042.41 L184.98 1040.86 L186.23 1039.3 L187.49 1037.74 L188.74 1036.19 L190 1034.64 L191.26 1033.08 L192.52 1031.53 L193.78 1029.98 L195.04 1028.44 L196.31 1026.89 L197.57 1025.34 L198.84 1023.8 L200.11 1022.26 L201.39 1020.72 L202.66 1019.18 L203.94 1017.65 L205.22 1016.12 L206.5 1014.59 L207.79 1013.05 L209.07 1011.53 L210.36 1010 L211.65 1008.47 L212.94 1006.94 L214.23 1005.42 L215.52 1003.89 L216.82 1002.37 L218.11 1000.85 L219.41 999.33 L220.71 997.81 L222.01 996.29 L223.31 994.77 L224.61 993.26 L225.91 991.74 L227.22 990.23 L228.53 988.72 L229.83 987.21 L231.14 985.7 L232.45 984.19 L233.77 982.68 L235.08 981.17 L236.4 979.67 L237.71 978.17 L239.03 976.66 L240.35 975.16 L241.67 973.66 L242.99 972.16 L244.31 970.67 L245.64 969.17 L246.96 967.68 L248.29 966.18 L249.62 964.69 L250.95 963.2 L252.28 961.72 L253.62 960.23 L254.95 958.74 L256.29 957.26 L257.63 955.78 L258.97 954.3 L260.32 952.82 L261.66 951.35 L263.01 949.87 L264.36 948.4 L265.71 946.92 L267.06 945.45 L268.41 943.98 L269.77 942.51 L271.12 941.04 L272.48 939.58 L273.84 938.11 L275.2 936.65 L276.55 935.18 L277.91 933.72 L279.28 932.25 L280.64 930.79 L282 929.33 L283.36 927.87 L284.72 926.4 L286.09 924.94 L287.45 923.48 L288.82 922.02 L290.18 920.56 L291.55 919.1 L292.91 917.64 L294.28 916.18 L295.64 914.72 L297 913.26 L298.37 911.8 L299.73 910.34 L301.1 908.88 L302.46 907.42 L303.82 905.96 L305.19 904.49 L306.55 903.03 L307.91 901.57 L309.27 900.11 L310.63 898.64 L311.99 897.18 L313.35 895.71 L314.7 894.24 L316.06 892.77 L317.4 891.29 L318.73 889.79 L320.06 888.29 L321.39 886.79 L322.72 885.3 L324.07 883.81 L325.42 882.34 L326.79 880.89 L328.18 879.47 L329.6 878.08 L331.05 876.72 L332.53 875.38 L334.03 874.07 L335.55 872.77 L337.09 871.49 L338.65 870.23 L340.21 868.97 L341.78 867.73 L343.35 866.49 L344.93 865.26 L346.5 864.03 L348.09 862.82 L349.68 861.62 L351.28 860.42 L352.89 859.24 L354.51 858.06 L356.13 856.89 L357.75 855.72 L359.38 854.55 L361 853.39 L362.63 852.23 L364.26 851.07 L365.88 849.91 L367.5 848.73 L369.12 847.55 L370.75 846.38 L372.38 845.22 L374.02 844.07 L375.66 842.94 L377.33 841.84 L379.01 840.77 L380.71 839.74 L382.42 838.72 L384.15 837.73 L385.9 836.75 L387.66 835.8 L389.43 834.86 L391.21 833.94 L393 833.04 L394.8 832.17 L396.6 831.31 L398.4 830.45 L400.22 829.59 L402.04 828.75 L403.88 827.93 L405.72 827.16 L407.59 826.44 L409.46 825.8 L411.36 825.22 L413.27 824.67 L415.21 824.14 L417.15 823.64 L419.11 823.18 L421.07 822.77 L423.04 822.41 L425.01 822.11 L426.98 821.85 L428.96 821.59 L430.95 821.34 L432.95 821.11 L434.94 820.91 L436.94 820.76 L438.94 820.65 L440.93 820.6 L442.92 820.63 L444.92 820.73 L446.92 820.91 L448.92 821.14 L450.91 821.41 L452.89 821.72 L454.84 822.04 L456.78 822.41 L458.71 822.92 L460.63 823.52 L462.54 824.22 L464.41 824.97 L466.26 825.76 L468.06 826.56 L469.83 827.43 L471.58 828.38 L473.31 829.41 L475.01 830.49 L476.69 831.62 L478.34 832.78 L479.96 833.96 L481.56 835.14 L483.13 836.35 L484.69 837.61 L486.22 838.91 L487.73 840.24 L489.2 841.61 L490.64 843 L492.04 844.42 L493.4 845.86 L494.72 847.34 L496.01 848.87 L497.27 850.42 L498.5 852.01 L499.72 853.6 L500.92 855.21 L502.12 856.82 L503.31 858.42 L504.49 860.03 L505.66 861.65 L506.82 863.28 L507.96 864.92 L509.09 866.57 L510.21 868.23 L511.3 869.9 L512.4 871.57 L513.51 873.25 L514.57 874.95 L515.55 876.69 L516.39 878.47 L517.15 880.3 L517.85 882.16 L518.51 884.05 L519.14 885.96 L519.76 887.87 L520.38 889.79 L521.02 891.69 L521.68 893.57 L522.35 895.45 L523.03 897.34 L523.71 899.22 L524.38 901.1 L525.05 902.98 L525.72 904.86 L526.37 906.75 L527.02 908.64 L527.64 910.54 L528.27 912.44 L528.91 914.34 L529.53 916.24 L530.15 918.14 L530.75 920.05 L531.33 921.96 L531.87 923.88 L532.38 925.81 L532.85 927.75 L533.3 929.69 L533.74 931.64 L534.15 933.59 L534.55 935.55 L534.94 937.52 L535.31 939.48 L535.67 941.45 L536.02 943.42 L536.35 945.39 L536.67 947.36 L536.97 949.34 L537.26 951.31 L537.54 953.29 L537.81 955.27 L538.08 957.25 L538.34 959.23 L538.61 961.22 L538.88 963.2 L539.15 965.18 L539.42 967.16 L539.68 969.14 L539.94 971.12 L540.2 973.1 L540.46 975.08 L540.71 977.06 L540.97 979.04 L541.22 981.03 L541.46 983.01 L541.71 984.99 L541.95 986.98 L542.19 988.96 L542.42 990.94 L542.66 992.93 L542.9 994.91 L543.13 996.9 L543.37 998.88 L543.61 1000.86 L543.85 1002.85 L544.1 1004.83 L544.35 1006.81 L544.61 1008.79 L544.86 1010.78 L545.12 1012.76 L545.38 1014.74 L545.64 1016.72 L545.9 1018.7 L546.16 1020.68 L546.42 1022.66 L546.69 1024.64 L546.96 1026.62 L547.23 1028.6 L547.5 1030.58 L547.77 1032.56 L548.05 1034.54 L548.32 1036.52 L548.6 1038.5" fill="none" stroke="#008000" stroke-width="1.15" stroke-dasharray="4.7 7.82 1.56 7.82" stroke-dashoffset="11.1" stroke-linecap="butt" stroke-linejoin="round" clip-path="url(#clip2)"/>
<path d="M564.5 995 L564.93 993.04 L565.35 991.09 L565.77 989.13 L566.18 987.17 L566.58 985.21 L566.98 983.25 L567.37 981.28 L567.75 979.32 L568.12 977.35 L568.48 975.38 L568.83 973.41 L569.18 971.44 L569.52 969.47 L569.88 967.5 L570.24 965.53 L570.61 963.56 L571 961.6 L571.4 959.64 L571.82 957.68 L572.24 955.72 L572.67 953.77 L573.1 951.81 L573.54 949.86 L573.98 947.91 L574.41 945.95 L574.84 944 L575.26 942.04 L575.68 940.08 L576.09 938.12 L576.51 936.16 L576.93 934.2 L577.37 932.24 L577.81 930.29 L578.28 928.35 L578.77 926.41 L579.28 924.48 L579.82 922.55 L580.38 920.63 L580.95 918.71 L581.55 916.79 L582.16 914.88 L582.8 912.98 L583.45 911.09 L584.12 909.21 L584.82 907.34 L585.56 905.48 L586.32 903.63 L587.1 901.78 L587.9 899.94 L588.71 898.11 L589.53 896.28 L590.34 894.45 L591.16 892.63 L591.98 890.79 L592.82 888.97 L593.66 887.14 L594.53 885.33 L595.42 883.54 L596.34 881.77 L597.3 880.02 L598.31 878.31 L599.38 876.62 L600.51 874.97 L601.66 873.32 L602.83 871.69 L604 870.06 L605.16 868.43 L606.32 866.79 L607.5 865.16 L608.7 863.56 L609.93 861.98 L611.19 860.44 L612.51 858.94 L613.88 857.48 L615.28 856.05 L616.72 854.64 L618.18 853.27 L619.65 851.92 L621.16 850.61 L622.71 849.33 L624.27 848.08 L625.84 846.84 L627.42 845.6 L629 844.38 L630.6 843.17 L632.22 841.98 L633.85 840.82 L635.5 839.7 L637.18 838.61 L638.88 837.55 L640.59 836.51 L642.32 835.5 L644.07 834.52 L645.83 833.57 L647.6 832.64 L649.39 831.75 L651.2 830.88 L653.01 830.02 L654.82 829.18 L656.64 828.33 L658.46 827.5 L660.29 826.68 L662.12 825.88 L663.97 825.1 L665.82 824.35 L667.68 823.61 L669.55 822.89 L671.43 822.19 L673.32 821.52 L675.22 820.9 L677.12 820.3 L679.05 819.74 L680.98 819.21 L682.91 818.69 L684.85 818.19 L686.79 817.7 L688.74 817.22 L690.68 816.75 L692.63 816.3 L694.59 815.86 L696.54 815.44 L698.5 815.04 L700.47 814.65 L702.43 814.28 L704.4 813.92 L706.38 813.57 L708.35 813.23 L710.32 812.9 L712.3 812.57 L714.27 812.25 L716.25 811.93 L718.23 811.62 L720.21 811.32 L722.19 811.02 L724.17 810.74 L726.16 810.47 L728.14 810.22 L730.13 809.98 L732.11 809.74 L734.1 809.51 L736.09 809.29 L738.08 809.08 L740.07 808.87 L742.07 808.67 L744.06 808.47 L746.05 808.28 L748.05 808.1 L750.04 807.93 L752.04 807.77 L754.03 807.61 L756.03 807.47 L758.02 807.33 L760.02 807.19 L762.02 807.07 L764.02 806.94 L766.02 806.82 L768.01 806.71 L770.01 806.6 L772.01 806.49 L774.01 806.38 L776.01 806.27 L778.01 806.16 L780.01 806.06 L782.01 805.95 L784.01 805.84 L786.01 805.74 L788 805.63 L790 805.53 L792 805.43 L794 805.33 L796 805.23 L798 805.14 L800 805.04 L802 804.95 L804 804.85 L806 804.76 L808 804.67 L810 804.59 L812 804.5" fill="none" stroke="#008000" stroke-width="1.15" stroke-dasharray="4.7 7.82 1.56 7.82" stroke-linecap="butt" stroke-linejoin="round" clip-path="url(#clip2)"/>
<path d="M110 1102.55 L112 1100.13 L114 1097.7 L116 1095.27 L118 1092.84 L120 1090.4 L122 1087.95 L124 1085.51 L126 1083.05 L128 1080.6 L130 1078.14 L132 1075.67 L134 1073.2 L136 1070.73 L138 1068.26 L140 1065.78 L142 1063.3 L144 1060.82 L146 1058.33 L148 1055.84 L150 1053.35 L152 1050.86 L154 1048.37 L156 1045.87 L158 1043.38 L160 1040.88 L162 1038.38 L164 1035.89 L166 1033.39 L168 1030.89 L170 1028.39 L172 1025.89 L174 1023.39 L176 1020.89 L178 1018.39 L180 1015.9 L182 1013.4 L184 1010.9 L186 1008.41 L188 1005.92 L190 1003.43 L192 1000.94 L194 998.45 L196 995.97 L198 993.49 L200 991.01 L202 988.53 L204 986.06 L206 983.59 L208 981.13 L210 978.66 L212 976.21 L214 973.75 L216 971.3 L218 968.86 L220 966.42 L222 963.98 L224 961.55 L226 959.12 L228 956.7 L230 954.29 L232 951.88 L234 949.47 L236 947.08 L238 944.69 L240 942.3 L242 939.92 L244 937.55 L246 935.19 L248 932.83 L250 930.48 L252 928.14 L254 925.81 L256 923.48 L258 921.16 L260 918.85 L262 916.55 L264 914.26 L266 911.98 L268 909.71 L270 907.44 L272 905.19 L274 902.94 L276 900.71 L278 898.48 L280 896.27 L282 894.06 L284 891.87 L286 889.69 L288 887.51 L290 885.35 L292 883.21 L294 881.07 L296 878.94 L298 876.83 L300 874.73 L302 872.64 L304 870.56 L306 868.5 L308 866.45 L310 864.41 L312 862.38 L314 860.37 L316 858.38 L318 856.39 L320 854.42 L322 852.47 L324 850.53 L326 848.6 L328 846.69 L330 844.8 L332 842.91 L334 841.05 L336 839.2 L338 837.37 L340 835.55 L342 833.75 L344 831.96 L346 830.19 L348 828.44 L350 826.7 L352 824.98 L354 823.28 L356 821.6 L358 819.93 L360 818.29 L362 816.66 L364 815.04 L366 813.45 L368 811.88 L370 810.32 L372 808.78 L374 807.27 L376 805.77 L378 804.29 L380 802.83 L382 801.39 L384 799.97 L386 798.57 L388 797.2 L390 795.84 L392 794.5 L394 793.19 L396 791.89 L398 790.62 L400 789.37 L402 788.14 L404 786.93 L406 785.75 L408 784.59 L410 783.45 L412 782.33 L414 781.23 L416 780.16 L418 779.12 L420 778.09 L422 777.09 L424 776.11 L426 775.16 L428 774.23 L430 773.33 L432 772.45 L434 771.6 L436 770.77 L438 769.96 L440 769.19 L442 768.43 L444 767.71 L446 767.01 L448 766.33 L450 765.68 L452 765.06 L454 764.47 L456 763.9 L458 763.36 L460 762.84 L462 762.36 L464 761.9 L466 761.47 L468 761.07 L470 760.69 L472 760.35 L474 760.03 L476 759.73 L478 759.47 L480 759.23 L482 759.01 L484 758.83 L486 758.66 L488 758.52 L490 758.4 L492 758.31 L494 758.24 L496 758.19 L498 758.17 L500 758.16 L502 758.18 L504 758.22 L506 758.28 L508 758.36 L510 758.45 L512 758.57 L514 758.71 L516 758.86 L518 759.03 L520 759.22 L522 759.43 L524 759.65 L526 759.89 L528 760.14 L530 760.41 L532 760.69 L534 760.99 L536 761.3 L538 761.62 L540 761.96 L542 762.31 L544 762.67 L546 763.05 L548 763.43 L550 763.83 L552 764.23 L554 764.65 L556 765.07 L558 765.51 L560 765.95 L562 766.4 L564 766.86 L566 767.33 L568 767.8 L570 768.28 L572 768.76 L574 769.25 L576 769.75 L578 770.25 L580 770.75 L582 771.26 L584 771.77 L586 772.29 L588 772.81 L590 773.32 L592 773.85 L594 774.37 L596 774.89 L598 775.41 L600 775.93 L602 776.46 L604 776.98 L606 777.5 L608 778.01 L610 778.53 L612 779.04 L614 779.55 L616 780.06 L618 780.56 L620 781.06 L622 781.55 L624 782.03 L626 782.52 L628 782.99 L630 783.46 L632 783.92 L634 784.37 L636 784.82 L638 785.26 L640 785.68 L642 786.1 L644 786.51 L646 786.91 L648 787.31 L650 787.69 L652 788.07 L654 788.43 L656 788.79 L658 789.14 L660 789.49 L662 789.82 L664 790.15 L666 790.47 L668 790.78 L670 791.09 L672 791.39 L674 791.68 L676 791.96 L678 792.24 L680 792.51 L682 792.77 L684 793.03 L686 793.28 L688 793.52 L690 793.76 L692 793.99 L694 794.21 L696 794.43 L698 794.65 L700 794.85 L702 795.06 L704 795.25 L706 795.45 L708 795.63 L710 795.81 L712 795.99 L714 796.16 L716 796.33 L718 796.49 L720 796.65 L722 796.8 L724 796.95 L726 797.09 L728 797.23 L730 797.37 L732 797.5 L734 797.63 L736 797.76 L738 797.88 L740 798 L742 798.11 L744 798.22 L746 798.33 L748 798.44 L750 798.54 L752 798.64 L754 798.74 L756 798.84 L758 798.93 L760 799.02 L762 799.11 L764 799.2 L766 799.28 L768 799.36 L770 799.45 L772 799.53 L774 799.6 L776 799.68 L778 799.76 L780 799.83 L782 799.91 L784 799.98 L786 800.05 L788 800.12 L790 800.19 L792 800.26 L794 800.33 L796 800.4 L798 800.48 L800 800.55 L802 800.62 L804 800.69 L806 800.76 L808 800.83 L810 800.9 L812 800.97" fill="none" stroke="#008000" stroke-width="3.55" stroke-dasharray="4.7 7.82 1.56 7.82" stroke-dashoffset="3" stroke-linecap="butt" stroke-linejoin="round" clip-path="url(#clip2)"/>
<path d="M244 1091.63 L246 1088.99 L248.01 1086.37 L250.01 1083.75 L252.01 1081.14 L254.02 1078.53 L256.02 1075.93 L258.02 1073.34 L260.03 1070.75 L262.03 1068.17 L264.03 1065.59 L266.04 1063.02 L268.04 1060.45 L270.04 1057.89 L272.05 1055.33 L274.05 1052.78 L276.06 1050.24 L278.06 1047.7 L280.06 1045.16 L282.07 1042.63 L284.07 1040.1 L286.07 1037.58 L288.08 1035.06 L290.08 1032.55 L292.08 1030.04 L294.09 1027.53 L296.09 1025.03 L298.09 1022.53 L300.1 1020.04 L302.1 1017.55 L304.1 1015.06 L306.11 1012.58 L308.11 1010.09 L310.11 1007.62 L312.12 1005.14 L314.12 1002.67 L316.12 1000.2 L318.13 997.74 L320.13 995.27 L322.13 992.81 L324.14 990.35 L326.14 987.9 L328.14 985.44 L330.15 982.99 L332.15 980.54 L334.16 978.09 L336.16 975.65 L338.16 973.2 L340.17 970.76 L342.17 968.32 L344.17 965.88 L346.18 963.44 L348.18 961 L350.18 958.56 L352.19 956.13 L354.19 953.69 L356.19 951.26 L358.2 948.82 L360.2 946.39 L362.2 943.96 L364.21 941.52 L366.21 939.09 L368.21 936.66 L370.22 934.23 L372.22 931.79 L374.22 929.36 L376.23 926.93 L378.23 924.49 L380.23 922.06 L382.24 919.62 L384.24 917.19 L386.24 914.75 L388.25 912.31 L390.25 909.87 L392.26 907.43 L394.26 904.99 L396.26 902.55 L398.27 900.1 L400.27 897.66 L402.27 895.21 L404.28 892.76 L406.28 890.31 L408.28 887.85 L410.29 885.4 L412.29 882.94 L414.29 880.48 L416.3 878.02 L418.3 875.55 L420.3 873.09 L422.31 870.62 L424.31 868.16 L426.31 865.69 L428.32 863.23 L430.32 860.76 L432.32 858.3 L434.33 855.83 L436.33 853.37 L438.33 850.91 L440.34 848.45 L442.34 845.99 L444.34 843.53 L446.35 841.08 L448.35 838.63 L450.36 836.18 L452.36 833.74 L454.36 831.3 L456.37 828.86 L458.37 826.43 L460.37 824 L462.38 821.58 L464.38 819.16 L466.38 816.75 L468.39 814.34 L470.39 811.94 L472.39 809.55 L474.4 807.16 L476.4 804.78 L478.4 802.41 L480.41 800.04 L482.41 797.68 L484.41 795.33 L486.42 792.99 L488.42 790.65 L490.42 788.33 L492.43 786.01 L494.43 783.71 L496.43 781.41 L498.44 779.12 L500.44 776.85 L502.44 774.58 L504.45 772.32 L506.45 770.08 L508.46 767.85 L510.46 765.63 L512.46 763.42 L514.47 761.22 L516.47 759.03 L518.47 756.86 L520.48 754.7 L522.48 752.56 L524.48 750.43 L526.49 748.31 L528.49 746.2 L530.49 744.12 L532.5 742.04 L534.5 739.98 L536.5 737.94 L538.51 735.91 L540.51 733.9 L542.51 731.9 L544.52 729.92 L546.52 727.96 L548.52 726.01 L550.53 724.08 L552.53 722.17 L554.53 720.28 L556.54 718.4 L558.54 716.54 L560.54 714.71 L562.55 712.89 L564.55 711.09 L566.56 709.31 L568.56 707.55 L570.56 705.81 L572.57 704.09 L574.57 702.39 L576.57 700.71 L578.58 699.05 L580.58 697.42 L582.58 695.81 L584.59 694.22 L586.59 692.66 L588.59 691.12 L590.6 689.61 L592.6 688.13 L594.6 686.68 L596.61 685.26 L598.61 683.87 L600.61 682.52 L602.62 681.2 L604.62 679.91 L606.62 678.67 L608.63 677.46 L610.63 676.28 L612.63 675.15 L614.64 674.06 L616.64 673.01 L618.64 672.01 L620.65 671.04 L622.65 670.13 L624.66 669.26 L626.66 668.44 L628.66 667.67 L630.67 666.94 L632.67 666.27 L634.67 665.65 L636.68 665.07 L638.68 664.53 L640.68 664.04 L642.69 663.59 L644.69 663.18 L646.69 662.81 L648.7 662.48 L650.7 662.18 L652.7 661.92 L654.71 661.69 L656.71 661.49 L658.71 661.32 L660.72 661.19 L662.72 661.07 L664.72 660.99 L666.73 660.93 L668.73 660.89 L670.73 660.87 L672.74 660.88 L674.74 660.9 L676.74 660.94 L678.75 660.99 L680.75 661.06 L682.76 661.14 L684.76 661.24 L686.76 661.34 L688.77 661.45 L690.77 661.57 L692.77 661.7 L694.78 661.84 L696.78 661.98 L698.78 662.13 L700.79 662.28 L702.79 662.43 L704.79 662.59 L706.8 662.74 L708.8 662.9 L710.8 663.06 L712.81 663.22 L714.81 663.37 L716.81 663.52 L718.82 663.67 L720.82 663.81 L722.82 663.95 L724.83 664.08 L726.83 664.2 L728.83 664.32 L730.84 664.42 L732.84 664.52 L734.84 664.61 L736.85 664.68 L738.85 664.75 L740.86 664.82 L742.86 664.87 L744.86 664.92 L746.87 664.96 L748.87 664.99 L750.87 665.02 L752.88 665.04 L754.88 665.05 L756.88 665.06 L758.89 665.06 L760.89 665.06 L762.89 665.05 L764.9 665.04 L766.9 665.02 L768.9 665 L770.91 664.98 L772.91 664.95 L774.91 664.92 L776.92 664.88 L778.92 664.85 L780.92 664.81 L782.93 664.76 L784.93 664.72 L786.93 664.68 L788.94 664.63 L790.94 664.59 L792.94 664.54 L794.95 664.5 L796.95 664.46 L798.96 664.42 L800.96 664.38 L802.96 664.34 L804.97 664.31 L806.97 664.28 L808.97 664.25 L810.98 664.23 L812.98 664.21 L814.98 664.2 L816.99 664.19 L818.99 664.19 L820.99 664.19 L823 664.2 L825 664.22" fill="none" stroke="#000000" stroke-width="1.15" stroke-linecap="butt" stroke-linejoin="round" clip-path="url(#clip2)"/>
<path d="M258 1091.44 L260 1088.92 L262 1086.4 L264 1083.88 L266 1081.36 L268 1078.84 L270 1076.32 L272 1073.8 L274 1071.27 L276 1068.75 L278 1066.23 L280 1063.72 L282 1061.2 L284 1058.68 L286 1056.16 L288 1053.64 L290 1051.13 L292 1048.61 L294 1046.1 L296 1043.59 L298 1041.07 L300 1038.56 L302 1036.05 L304 1033.55 L306 1031.04 L308 1028.53 L310 1026.03 L312 1023.53 L314 1021.03 L316 1018.53 L318 1016.04 L320 1013.54 L322 1011.05 L324 1008.56 L326 1006.07 L328 1003.59 L330 1001.1 L332 998.62 L334 996.14 L336 993.67 L338 991.19 L340 988.72 L342 986.26 L344 983.79 L346 981.33 L348 978.87 L350 976.42 L352 973.96 L354 971.52 L356 969.07 L358 966.63 L360 964.19 L362 961.76 L364 959.32 L366 956.9 L368 954.47 L370 952.05 L372 949.64 L374 947.23 L376 944.82 L378 942.41 L380 940.02 L382 937.62 L384 935.23 L386 932.84 L388 930.46 L390 928.09 L392 925.72 L394 923.35 L396 920.99 L398 918.63 L400 916.28 L402 913.93 L404 911.59 L406 909.25 L408 906.92 L410 904.6 L412 902.28 L414 899.96 L416 897.65 L418 895.35 L420 893.05 L422 890.76 L424 888.48 L426 886.2 L428 883.92 L430 881.66 L432 879.4 L434 877.14 L436 874.9 L438 872.65 L440 870.42 L442 868.19 L444 865.97 L446 863.76 L448 861.55 L450 859.35 L452 857.16 L454 854.97 L456 852.8 L458 850.63 L460 848.47 L462 846.32 L464 844.18 L466 842.05 L468 839.92 L470 837.81 L472 835.71 L474 833.61 L476 831.53 L478 829.45 L480 827.39 L482 825.34 L484 823.3 L486 821.27 L488 819.25 L490 817.24 L492 815.25 L494 813.27 L496 811.3 L498 809.34 L500 807.39 L502 805.46 L504 803.54 L506 801.64 L508 799.74 L510 797.87 L512 796 L514 794.15 L516 792.32 L518 790.49 L520 788.69 L522 786.9 L524 785.12 L526 783.36 L528 781.62 L530 779.89 L532 778.17 L534 776.48 L536 774.8 L538 773.13 L540 771.49 L542 769.86 L544 768.25 L546 766.65 L548 765.07 L550 763.51 L552 761.97 L554 760.44 L556 758.93 L558 757.43 L560 755.96 L562 754.49 L564 753.05 L566 751.62 L568 750.2 L570 748.8 L572 747.42 L574 746.06 L576 744.71 L578 743.37 L580 742.05 L582 740.75 L584 739.46 L586 738.18 L588 736.92 L590 735.68 L592 734.45 L594 733.24 L596 732.04 L598 730.85 L600 729.68 L602 728.53 L604 727.39 L606 726.26 L608 725.15 L610 724.05 L612 722.97 L614 721.9 L616 720.84 L618 719.8 L620 718.77 L622 717.76 L624 716.75 L626 715.77 L628 714.79 L630 713.83 L632 712.88 L634 711.94 L636 711.02 L638 710.1 L640 709.2 L642 708.32 L644 707.44 L646 706.58 L648 705.72 L650 704.88 L652 704.05 L654 703.24 L656 702.43 L658 701.63 L660 700.85 L662 700.07 L664 699.31 L666 698.56 L668 697.82 L670 697.09 L672 696.37 L674 695.66 L676 694.96 L678 694.27 L680 693.59 L682 692.93 L684 692.27 L686 691.62 L688 690.99 L690 690.36 L692 689.75 L694 689.14 L696 688.55 L698 687.97 L700 687.39 L702 686.83 L704 686.27 L706 685.73 L708 685.2 L710 684.67 L712 684.16 L714 683.65 L716 683.16 L718 682.67 L720 682.2 L722 681.73 L724 681.28 L726 680.83 L728 680.39 L730 679.97 L732 679.55 L734 679.14 L736 678.74 L738 678.35 L740 677.97 L742 677.6 L744 677.23 L746 676.88 L748 676.54 L750 676.2 L752 675.88 L754 675.56 L756 675.25 L758 674.95 L760 674.66 L762 674.38 L764 674.1 L766 673.84 L768 673.58 L770 673.34 L772 673.1 L774 672.87 L776 672.65 L778 672.43 L780 672.23 L782 672.03 L784 671.84 L786 671.66 L788 671.49 L790 671.33 L792 671.17 L794 671.02 L796 670.88 L798 670.75 L800 670.63 L802 670.51 L804 670.4 L806 670.3 L808 670.21 L810 670.13 L812 670.05" fill="none" stroke="#000000" stroke-width="3.5" stroke-linecap="butt" stroke-linejoin="round" clip-path="url(#clip2)"/>
<path d="M505.8 1088.9 L507.8 1086.42 L509.8 1083.94 L511.8 1081.47 L513.81 1079 L515.81 1076.54 L517.81 1074.08 L519.81 1071.62 L521.81 1069.17 L523.81 1066.73 L525.81 1064.29 L527.81 1061.86 L529.82 1059.43 L531.82 1057.01 L533.82 1054.59 L535.82 1052.18 L537.82 1049.77 L539.82 1047.37 L541.82 1044.97 L543.82 1042.58 L545.83 1040.2 L547.83 1037.82 L549.83 1035.45 L551.83 1033.08 L553.83 1030.72 L555.83 1028.37 L557.83 1026.02 L559.84 1023.68 L561.84 1021.35 L563.84 1019.02 L565.84 1016.7 L567.84 1014.38 L569.84 1012.07 L571.84 1009.77 L573.84 1007.47 L575.85 1005.19 L577.85 1002.9 L579.85 1000.63 L581.85 998.36 L583.85 996.1 L585.85 993.85 L587.85 991.6 L589.85 989.36 L591.86 987.13 L593.86 984.91 L595.86 982.7 L597.86 980.49 L599.86 978.3 L601.86 976.11 L603.86 973.93 L605.87 971.77 L607.87 969.61 L609.87 967.46 L611.87 965.33 L613.87 963.2 L615.87 961.09 L617.87 958.99 L619.87 956.9 L621.88 954.82 L623.88 952.76 L625.88 950.71 L627.88 948.67 L629.88 946.65 L631.88 944.64 L633.88 942.64 L635.88 940.66 L637.89 938.69 L639.89 936.74 L641.89 934.8 L643.89 932.88 L645.89 930.97 L647.89 929.08 L649.89 927.2 L651.9 925.34 L653.9 923.5 L655.9 921.67 L657.9 919.86 L659.9 918.06 L661.9 916.28 L663.9 914.51 L665.9 912.76 L667.91 911.03 L669.91 909.31 L671.91 907.61 L673.91 905.92 L675.91 904.25 L677.91 902.59 L679.91 900.95 L681.92 899.33 L683.92 897.72 L685.92 896.13 L687.92 894.55 L689.92 892.98 L691.92 891.43 L693.92 889.9 L695.92 888.38 L697.93 886.87 L699.93 885.38 L701.93 883.91 L703.93 882.44 L705.93 881 L707.93 879.56 L709.93 878.14 L711.93 876.74 L713.94 875.35 L715.94 873.97 L717.94 872.61 L719.94 871.26 L721.94 869.92 L723.94 868.6 L725.94 867.29 L727.95 866 L729.95 864.72 L731.95 863.45 L733.95 862.19 L735.95 860.95 L737.95 859.72 L739.95 858.51 L741.95 857.3 L743.96 856.11 L745.96 854.94 L747.96 853.77 L749.96 852.62 L751.96 851.49 L753.96 850.37 L755.96 849.26 L757.96 848.17 L759.97 847.1 L761.97 846.04 L763.97 844.99 L765.97 843.96 L767.97 842.95 L769.97 841.95 L771.97 840.97 L773.98 840.01 L775.98 839.06 L777.98 838.14 L779.98 837.22 L781.98 836.33 L783.98 835.45 L785.98 834.6 L787.98 833.76 L789.99 832.94 L791.99 832.13 L793.99 831.35 L795.99 830.59 L797.99 829.84 L799.99 829.12 L801.99 828.41 L803.99 827.73 L806 827.07 L808 826.42 L810 825.8 L812 825.2" fill="none" stroke="#ff0000" stroke-width="1.15" stroke-dasharray="1.56 4.7" stroke-linecap="butt" stroke-linejoin="round" clip-path="url(#clip2)"/>
<path d="M517.6 1089.16 L519.6 1086.74 L521.61 1084.32 L523.61 1081.89 L525.61 1079.46 L527.61 1077.02 L529.62 1074.59 L531.62 1072.15 L533.62 1069.71 L535.62 1067.26 L537.63 1064.82 L539.63 1062.37 L541.63 1059.92 L543.64 1057.47 L545.64 1055.02 L547.64 1052.58 L549.64 1050.13 L551.65 1047.68 L553.65 1045.23 L555.65 1042.78 L557.65 1040.34 L559.66 1037.89 L561.66 1035.45 L563.66 1033.01 L565.67 1030.57 L567.67 1028.14 L569.67 1025.71 L571.67 1023.28 L573.68 1020.85 L575.68 1018.43 L577.68 1016.01 L579.68 1013.6 L581.69 1011.19 L583.69 1008.79 L585.69 1006.39 L587.7 1004 L589.7 1001.61 L591.7 999.23 L593.7 996.86 L595.71 994.49 L597.71 992.13 L599.71 989.78 L601.71 987.43 L603.72 985.09 L605.72 982.77 L607.72 980.44 L609.73 978.13 L611.73 975.83 L613.73 973.53 L615.73 971.25 L617.74 968.97 L619.74 966.71 L621.74 964.45 L623.74 962.21 L625.75 959.98 L627.75 957.75 L629.75 955.54 L631.76 953.34 L633.76 951.16 L635.76 948.98 L637.76 946.82 L639.77 944.67 L641.77 942.54 L643.77 940.42 L645.77 938.31 L647.78 936.21 L649.78 934.13 L651.78 932.07 L653.79 930.02 L655.79 927.98 L657.79 925.96 L659.79 923.96 L661.8 921.97 L663.8 920 L665.8 918.05 L667.8 916.11 L669.81 914.19 L671.81 912.28 L673.81 910.4 L675.81 908.53 L677.82 906.68 L679.82 904.84 L681.82 903.03 L683.83 901.23 L685.83 899.45 L687.83 897.69 L689.83 895.94 L691.84 894.21 L693.84 892.5 L695.84 890.81 L697.84 889.14 L699.85 887.49 L701.85 885.85 L703.85 884.23 L705.86 882.63 L707.86 881.05 L709.86 879.49 L711.86 877.94 L713.87 876.42 L715.87 874.91 L717.87 873.42 L719.87 871.95 L721.88 870.5 L723.88 869.07 L725.88 867.66 L727.89 866.27 L729.89 864.89 L731.89 863.54 L733.89 862.2 L735.9 860.89 L737.9 859.59 L739.9 858.31 L741.9 857.05 L743.91 855.82 L745.91 854.6 L747.91 853.4 L749.92 852.22 L751.92 851.07 L753.92 849.93 L755.92 848.81 L757.93 847.71 L759.93 846.63 L761.93 845.58 L763.93 844.54 L765.94 843.52 L767.94 842.53 L769.94 841.55 L771.95 840.59 L773.95 839.66 L775.95 838.75 L777.95 837.85 L779.96 836.98 L781.96 836.13 L783.96 835.3 L785.96 834.49 L787.97 833.7 L789.97 832.94 L791.97 832.19 L793.98 831.47 L795.98 830.77 L797.98 830.09 L799.98 829.43 L801.99 828.79 L803.99 828.17 L805.99 827.58 L807.99 827 L810 826.45 L812 825.93" fill="none" stroke="#ff0000" stroke-width="3.55" stroke-dasharray="1.56 4.7" stroke-linecap="butt" stroke-linejoin="round" clip-path="url(#clip2)"/>
<g class="tx">
<text class="tk" x="56.3" y="111.6">10</text><text class="sup" x="91.82" y="97.2">0</text>
<text class="tk" x="49.1" y="307.1">10</text><text class="sup" x="83.62" y="292.7">-1</text>
<text class="tk" x="49.1" y="502.6">10</text><text class="sup" x="83.62" y="488.2">-2</text>
<text class="tk" x="56.3" y="698.4">10</text><text class="sup" x="91.82" y="684">0</text>
<text class="tk" x="49.1" y="893.85">10</text><text class="sup" x="83.62" y="879.45">-1</text>
<text class="tk" x="49.1" y="1089.3">10</text><text class="sup" x="83.62" y="1074.9">-2</text>
<text class="tk" x="86.8" y="524.1">10</text><text class="sup" x="121.32" y="509.7">-2</text>
<text class="tk" x="260.53" y="524.1">10</text><text class="sup" x="295.04" y="509.7">-1</text>
<text class="tk" x="437.9" y="524.1">10</text><text class="sup" x="473.42" y="509.7">0</text>
<text class="tk" x="611.62" y="524.1">10</text><text class="sup" x="647.14" y="509.7">1</text>
<text class="tk" x="785.35" y="524.1">10</text><text class="sup" x="820.87" y="509.7">2</text>
<text class="tk" x="86.8" y="1110.8">10</text><text class="sup" x="121.32" y="1096.4">-3</text>
<text class="tk" x="241.2" y="1110.8">10</text><text class="sup" x="275.72" y="1096.4">-2</text>
<text class="tk" x="395.6" y="1110.8">10</text><text class="sup" x="430.12" y="1096.4">-1</text>
<text class="tk" x="553.65" y="1110.8">10</text><text class="sup" x="589.17" y="1096.4">0</text>
<text class="tk" x="708.05" y="1110.8">10</text><text class="sup" x="743.57" y="1096.4">1</text>
<g transform="translate(28 500) rotate(-90)">
<text class="m" x="30.3" y="-0.3" font-size="27.19" textLength="10.4" lengthAdjust="spacingAndGlyphs" stroke="#000" stroke-width="0.7">2</text>
<path d="M46.6 5.85L46.6 -21.75" stroke="#000" stroke-width="1.1" fill="none"/>
<text class="m i" x="51.2" y="0" font-size="27.29" textLength="22.8" lengthAdjust="spacingAndGlyphs" stroke="#000" stroke-width="0.8">&#x3d6;</text>
<path d="M76.8 5.85L76.8 -21.75" stroke="#000" stroke-width="1.1" fill="none"/>
<path d="M99.9 -21.75Q85 -7.95 99.9 5.85Q87 -7.95 99.9 -21.75Z" fill="#000" stroke="#000" stroke-width="0.55" stroke-linejoin="round"/>
<text class="m" x="103.6" y="-0.3" font-size="26.82" textLength="9.39" lengthAdjust="spacingAndGlyphs" stroke="#000" stroke-width="0.7">1</text>
<path d="M121.4 -7.7L140.2 -7.7" stroke="#000" stroke-width="1.1" fill="none"/>
<path d="M130.8 -17.1L130.8 1.7" stroke="#000" stroke-width="1.1" fill="none"/>
<text class="m i" x="144.5" y="0" font-size="30.72" textLength="7.74" lengthAdjust="spacingAndGlyphs" stroke="#000" stroke-width="0.3">t</text>
<text class="m i" x="154.6" y="6.2" font-size="19.7" textLength="7.8" lengthAdjust="spacingAndGlyphs" stroke="#000" stroke-width="0.3">s</text>
<path d="M164.5 5.85L174.5 -21.75" stroke="#000" stroke-width="1.15" fill="none"/>
<text class="m i" x="177.3" y="0" font-size="30.72" textLength="7.37" lengthAdjust="spacingAndGlyphs" stroke="#000" stroke-width="0.3">t</text>
<text class="m i" x="186.7" y="6.2" font-size="19.7" textLength="8" lengthAdjust="spacingAndGlyphs" stroke="#000" stroke-width="0.3">e</text>
<path d="M197.1 -21.75Q212 -7.95 197.1 5.85Q210 -7.95 197.1 -21.75Z" fill="#000" stroke="#000" stroke-width="0.55" stroke-linejoin="round"/>
<path d="M208.7 -20L220.3 -20" stroke="#000" stroke-width="1.0" fill="none"/>
<text class="m" x="224.4" y="-14.7" font-size="18.18" textLength="6.36" lengthAdjust="spacingAndGlyphs" stroke="#000" stroke-width="0.55">1</text>
<path d="M253.5 -5.3C254.6 -11.6 259.3 -12.6 262.5 -8.3C265.6 -4.0 270.2 -3.6 271.4 -10.2" fill="none" stroke="#000" stroke-width="1.45" stroke-linecap="round"/>
<path d="M288.4 5.85L288.4 -21.75" stroke="#000" stroke-width="1.1" fill="none"/>
<text class="m i" x="303.5" y="0" font-size="30.72" textLength="7.83" lengthAdjust="spacingAndGlyphs" stroke="#000" stroke-width="0.3">t</text>
<text class="m" x="313.6" y="6.2" font-size="19.7" textLength="39.6" lengthAdjust="spacingAndGlyphs" stroke="#000" stroke-width="0.3">cross</text>
<path d="M374.6 5.2 L366.8 -11.4 L374.6 -28.1" stroke="#000" stroke-width="1.1" fill="none" stroke-linejoin="miter"/>
<path fill-rule="evenodd" d="M378.7 -19.8L398.5 -19.8L388.6 0.3ZM382.4 -18.6L396.8 -18.6L389.6 -4.0Z" fill="#000"/>
<circle cx="409" cy="-7.8" r="1.7" fill="#000"/>
<text class="m i" x="414.3" y="-0.2" font-size="29.06" textLength="10.87" lengthAdjust="spacingAndGlyphs" stroke="#000" stroke-width="0.3">&#x3b4;</text>
<text class="m b" x="427.3" y="0" font-size="26.87" textLength="12.3" lengthAdjust="spacingAndGlyphs" stroke="#000" stroke-width="0.3">v</text>
<text class="m b" x="440.8" y="5.8" font-size="19.7" textLength="9.6" lengthAdjust="spacingAndGlyphs" stroke="#000" stroke-width="0.3">p</text>
<path d="M454.3 5.2 L461.6 -11.4 L454.3 -28.1" stroke="#000" stroke-width="1.1" fill="none" stroke-linejoin="miter"/>
<path d="M478.2 5.85L478.2 -21.75" stroke="#000" stroke-width="1.1" fill="none"/>
</g>
<g transform="translate(28 1086.6) rotate(-90)">
<text class="m" x="30.3" y="-0.3" font-size="27.19" textLength="10.4" lengthAdjust="spacingAndGlyphs" stroke="#000" stroke-width="0.7">2</text>
<path d="M46.6 5.85L46.6 -21.75" stroke="#000" stroke-width="1.1" fill="none"/>
<text class="m i" x="51.2" y="0" font-size="27.29" textLength="22.8" lengthAdjust="spacingAndGlyphs" stroke="#000" stroke-width="0.8">&#x3d6;</text>
<path d="M76.8 5.85L76.8 -21.75" stroke="#000" stroke-width="1.1" fill="none"/>
<path d="M99.9 -21.75Q85 -7.95 99.9 5.85Q87 -7.95 99.9 -21.75Z" fill="#000" stroke="#000" stroke-width="0.55" stroke-linejoin="round"/>
<text class="m" x="103.6" y="-0.3" font-size="26.82" textLength="9.39" lengthAdjust="spacingAndGlyphs" stroke="#000" stroke-width="0.7">1</text>
<path d="M121.4 -7.7L140.2 -7.7" stroke="#000" stroke-width="1.1" fill="none"/>
<path d="M130.8 -17.1L130.8 1.7" stroke="#000" stroke-width="1.1" fill="none"/>
<text class="m i" x="144.5" y="0" font-size="30.72" textLength="7.74" lengthAdjust="spacingAndGlyphs" stroke="#000" stroke-width="0.3">t</text>
<text class="m i" x="154.6" y="6.2" font-size="19.7" textLength="7.8" lengthAdjust="spacingAndGlyphs" stroke="#000" stroke-width="0.3">s</text>
<path d="M164.5 5.85L174.5 -21.75" stroke="#000" stroke-width="1.15" fill="none"/>
<text class="m i" x="177.3" y="0" font-size="30.72" textLength="7.37" lengthAdjust="spacingAndGlyphs" stroke="#000" stroke-width="0.3">t</text>
<text class="m i" x="186.7" y="6.2" font-size="19.7" textLength="8" lengthAdjust="spacingAndGlyphs" stroke="#000" stroke-width="0.3">e</text>
<path d="M197.1 -21.75Q212 -7.95 197.1 5.85Q210 -7.95 197.1 -21.75Z" fill="#000" stroke="#000" stroke-width="0.55" stroke-linejoin="round"/>
<path d="M208.7 -20L220.3 -20" stroke="#000" stroke-width="1.0" fill="none"/>
<text class="m" x="224.4" y="-14.7" font-size="18.18" textLength="6.36" lengthAdjust="spacingAndGlyphs" stroke="#000" stroke-width="0.55">1</text>
<path d="M253.5 -5.3C254.6 -11.6 259.3 -12.6 262.5 -8.3C265.6 -4.0 270.2 -3.6 271.4 -10.2" fill="none" stroke="#000" stroke-width="1.45" stroke-linecap="round"/>
<path d="M288.4 5.85L288.4 -21.75" stroke="#000" stroke-width="1.1" fill="none"/>
<text class="m i" x="303.5" y="0" font-size="30.72" textLength="7.83" lengthAdjust="spacingAndGlyphs" stroke="#000" stroke-width="0.3">t</text>
<text class="m" x="313.6" y="6.2" font-size="19.7" textLength="39.6" lengthAdjust="spacingAndGlyphs" stroke="#000" stroke-width="0.3">cross</text>
<path d="M374.6 5.2 L366.8 -11.4 L374.6 -28.1" stroke="#000" stroke-width="1.1" fill="none" stroke-linejoin="miter"/>
<path fill-rule="evenodd" d="M378.7 -19.8L398.5 -19.8L388.6 0.3ZM382.4 -18.6L396.8 -18.6L389.6 -4.0Z" fill="#000"/>
<circle cx="409" cy="-7.8" r="1.7" fill="#000"/>
<text class="m i" x="414.3" y="-0.2" font-size="29.06" textLength="10.87" lengthAdjust="spacingAndGlyphs" stroke="#000" stroke-width="0.3">&#x3b4;</text>
<text class="m b" x="427.3" y="0" font-size="26.87" textLength="12.3" lengthAdjust="spacingAndGlyphs" stroke="#000" stroke-width="0.3">v</text>
<text class="m b" x="440.8" y="5.8" font-size="19.7" textLength="9.6" lengthAdjust="spacingAndGlyphs" stroke="#000" stroke-width="0.3">p</text>
<path d="M454.3 5.2 L461.6 -11.4 L454.3 -28.1" stroke="#000" stroke-width="1.1" fill="none" stroke-linejoin="miter"/>
<path d="M478.2 5.85L478.2 -21.75" stroke="#000" stroke-width="1.1" fill="none"/>
</g>
<text class="m i" x="356.6" y="555" font-size="30.02" textLength="7.83" lengthAdjust="spacingAndGlyphs" stroke="#000" stroke-width="0.3">t</text>
<text class="m" x="366.2" y="560.9" font-size="19.7" textLength="35.2" lengthAdjust="spacingAndGlyphs" stroke="#000" stroke-width="0.3">stop</text>
<text class="m" x="403" y="555" font-size="29.15" textLength="17.7" lengthAdjust="spacingAndGlyphs" stroke="#000" stroke-width="0.3">&#x3a9;</text>
<text class="m" x="438.9" y="555" font-size="28.2" textLength="4.93" lengthAdjust="spacingAndGlyphs" stroke="#000" stroke-width="0.3">,</text>
<text class="m i" x="461.5" y="555" font-size="30.02" textLength="7.83" lengthAdjust="spacingAndGlyphs" stroke="#000" stroke-width="0.3">t</text>
<text class="m" x="471.2" y="560.9" font-size="19.7" textLength="35" lengthAdjust="spacingAndGlyphs" stroke="#000" stroke-width="0.3">stop</text>
<path d="M507.2 562L518.4 533.4" stroke="#000" stroke-width="1.15" fill="none"/>
<text class="m i" x="522.3" y="555" font-size="30.02" textLength="7.64" lengthAdjust="spacingAndGlyphs" stroke="#000" stroke-width="0.3">t</text>
<text class="m" x="531.7" y="560.9" font-size="19.7" stroke="#000" stroke-width="0.3">eddy</text>
<text class="m i" x="429.2" y="1139.1" font-size="30.02" textLength="7.74" lengthAdjust="spacingAndGlyphs" stroke="#000" stroke-width="0.3">t</text>
<text class="m" x="439" y="1144.6" font-size="19.7" textLength="39.8" lengthAdjust="spacingAndGlyphs" stroke="#000" stroke-width="0.3">eddy</text>
<text class="m" x="480.3" y="1139.1" font-size="29.15" textLength="18.3" lengthAdjust="spacingAndGlyphs" stroke="#000" stroke-width="0.3">&#x3a9;</text>
<text class="m i" x="450.7" y="111.8" font-size="27.57" textLength="7.09" lengthAdjust="spacingAndGlyphs" fill="#000000" stroke="#000000" stroke-width="0.3">t</text>
<text class="m" x="459.3" y="117" font-size="17.5" textLength="35.3" lengthAdjust="spacingAndGlyphs" fill="#000000" stroke="#000000" stroke-width="0.3">eddy</text>
<text class="m" x="496.2" y="111.8" font-size="25.68" textLength="16.8" lengthAdjust="spacingAndGlyphs" fill="#000000" stroke="#000000" stroke-width="0.3">&#x3a9;</text>
<path d="M519.3 97.1 L535.3 104.9 L519.3 112.7" stroke="#000000" stroke-width="1.15" fill="none" stroke-linejoin="miter"/>
<path d="M525.9 97.1 L541.9 104.9 L525.9 112.7" stroke="#000000" stroke-width="1.15" fill="none" stroke-linejoin="miter"/>
<text class="m" x="546.5" y="111.6" font-size="25.15" textLength="8.8" lengthAdjust="spacingAndGlyphs" fill="#000000" stroke="#000000" stroke-width="0.3">1</text>
<text class="m i" x="645.5" y="333.2" font-size="27.57" textLength="7.09" lengthAdjust="spacingAndGlyphs" fill="#0000ff" stroke="#0000ff" stroke-width="0.3">t</text>
<text class="m" x="654.1" y="338.4" font-size="17.5" textLength="35.3" lengthAdjust="spacingAndGlyphs" fill="#0000ff" stroke="#0000ff" stroke-width="0.3">eddy</text>
<text class="m" x="691" y="333.2" font-size="25.68" textLength="16.8" lengthAdjust="spacingAndGlyphs" fill="#0000ff" stroke="#0000ff" stroke-width="0.3">&#x3a9;</text>
<path d="M730.1 318.5 L714.1 326.3 L730.1 334.1" stroke="#0000ff" stroke-width="1.15" fill="none" stroke-linejoin="miter"/>
<path d="M736.7 318.5 L720.7 326.3 L736.7 334.1" stroke="#0000ff" stroke-width="1.15" fill="none" stroke-linejoin="miter"/>
<text class="m" x="741.3" y="333" font-size="25.15" textLength="8.8" lengthAdjust="spacingAndGlyphs" fill="#0000ff" stroke="#0000ff" stroke-width="0.3">1</text>
<text class="m i" x="132.7" y="772" font-size="21.75" textLength="9.94" lengthAdjust="spacingAndGlyphs" fill="#bf00bf">&#x3c4;</text>
<text class="m i" x="144.5" y="777.2" font-size="17.5" fill="#bf00bf" stroke="#bf00bf" stroke-width="0.3">s</text>
<path d="M157.3 764.2L173.5 764.2" stroke="#bf00bf" stroke-width="1.2" fill="none"/>
<path d="M157.3 768.1L173.5 768.1" stroke="#bf00bf" stroke-width="1.2" fill="none"/>
<text class="m" x="177.6" y="771.8" font-size="23.71" textLength="55.4" lengthAdjust="spacingAndGlyphs" fill="#bf00bf" stroke="#bf00bf" stroke-width="0.15">0.001</text>
<text class="m i" x="739.7" y="695.1" font-size="21.75" textLength="9.94" lengthAdjust="spacingAndGlyphs" fill="#000000">&#x3c4;</text>
<text class="m i" x="751.5" y="700.3" font-size="17.5" fill="#000000" stroke="#000000" stroke-width="0.3">s</text>
<path d="M764.3 687.3L780.5 687.3" stroke="#000000" stroke-width="1.2" fill="none"/>
<path d="M764.3 691.2L780.5 691.2" stroke="#000000" stroke-width="1.2" fill="none"/>
<text class="m" x="783.9" y="694.9" font-size="24.39" textLength="9.2" lengthAdjust="spacingAndGlyphs" fill="#000000" stroke="#000000" stroke-width="0.15">1</text>
<text class="m i" x="708.2" y="785.6" font-size="21.75" textLength="9.94" lengthAdjust="spacingAndGlyphs" fill="#008000">&#x3c4;</text>
<text class="m i" x="720" y="790.8" font-size="17.5" fill="#008000" stroke="#008000" stroke-width="0.3">s</text>
<path d="M732.8 777.8L749 777.8" stroke="#008000" stroke-width="1.2" fill="none"/>
<path d="M732.8 781.7L749 781.7" stroke="#008000" stroke-width="1.2" fill="none"/>
<text class="m" x="753.1" y="785.4" font-size="23.71" textLength="30.4" lengthAdjust="spacingAndGlyphs" fill="#008000" stroke="#008000" stroke-width="0.15">0.1</text>
<text class="m i" x="729.8" y="884.4" font-size="21.75" textLength="9.94" lengthAdjust="spacingAndGlyphs" fill="#ff0000">&#x3c4;</text>
<text class="m i" x="741.6" y="889.6" font-size="17.5" fill="#ff0000" stroke="#ff0000" stroke-width="0.3">s</text>
<path d="M754.4 876.6L770.6 876.6" stroke="#ff0000" stroke-width="1.2" fill="none"/>
<path d="M754.4 880.5L770.6 880.5" stroke="#ff0000" stroke-width="1.2" fill="none"/>
<text class="m" x="774" y="884.2" font-size="23.85" textLength="23.4" lengthAdjust="spacingAndGlyphs" fill="#ff0000" stroke="#ff0000" stroke-width="0.15">10</text>
<text class="m i" x="714.8" y="977.1" font-size="21.75" textLength="9.94" lengthAdjust="spacingAndGlyphs" fill="#0000ff">&#x3c4;</text>
<text class="m i" x="726.6" y="982.3" font-size="17.5" fill="#0000ff" stroke="#0000ff" stroke-width="0.3">s</text>
<path d="M739.4 969.3L755.6 969.3" stroke="#0000ff" stroke-width="1.2" fill="none"/>
<path d="M739.4 973.2L755.6 973.2" stroke="#0000ff" stroke-width="1.2" fill="none"/>
<text class="m" x="759.7" y="976.9" font-size="23.71" textLength="42.8" lengthAdjust="spacingAndGlyphs" fill="#0000ff" stroke="#0000ff" stroke-width="0.15">0.01</text>
<text class="" x="596.6" y="657.4" font-size="19.2" textLength="114.6" lengthAdjust="spacingAndGlyphs" fill="#000000">anti-cyclonic</text>
<text class="b" x="633.6" y="727.4" font-size="22.5" textLength="92.4" lengthAdjust="spacingAndGlyphs" fill="#000000">cyclonic</text>
</g>
</svg>
</body></html>
